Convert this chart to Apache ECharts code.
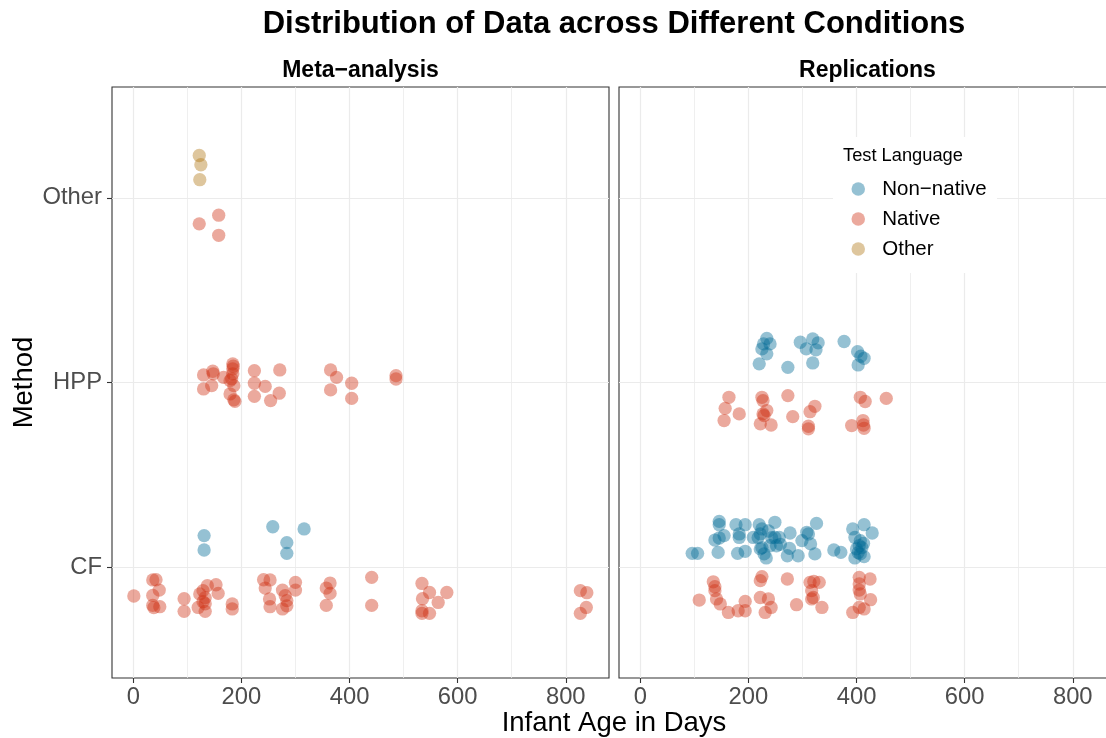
<!DOCTYPE html>
<html>
<head>
<meta charset="utf-8">
<script src="https://cdn.jsdelivr.net/npm/echarts@6/dist/echarts.min.js"></script>
<style>
  html, body { margin: 0; padding: 0; background: #ffffff; }
  #chart { width: 1106px; height: 738px; }
</style>
</head>
<body>
<div id="chart"></div>
<script>
// Method categories on the y axis (position 1 = CF, 2 = HPP, 3 = Other)
const methods = ['CF', 'HPP', 'Other'];
const ageTicks = [0, 200, 400, 600, 800];
const ageMinorLines = [100, 300, 500, 700];
const languages = ['Non\u2212native', 'Native', 'Other'];

// Points are [infant age in days, jittered method position]
const metaNonNative = [
  [131, 1.171], [131, 1.093], [258, 1.219], [316, 1.207], [284, 1.133], [284, 1.075]
];
const metaNative = [
  // CF
  [1, 0.844], [36, 0.931], [42, 0.932], [48, 0.876], [36, 0.847], [36, 0.793], [49, 0.786], [38, 0.781],
  [94, 0.829], [94, 0.761], [123, 0.855], [129, 0.873], [133, 0.835], [129, 0.813], [133, 0.802],
  [120, 0.782], [133, 0.761], [137, 0.900], [153, 0.905], [157, 0.858], [183, 0.801], [183, 0.774],
  [241, 0.932], [253, 0.931], [244, 0.887], [252, 0.828], [253, 0.786], [276, 0.876], [281, 0.846],
  [284, 0.819], [284, 0.791], [276, 0.774], [300, 0.918], [300, 0.876], [364, 0.914], [357, 0.887],
  [364, 0.858], [357, 0.793], [441, 0.945], [441, 0.793], [534, 0.912], [548, 0.863], [580, 0.863],
  [535, 0.829], [564, 0.809], [534, 0.764], [534, 0.750], [548, 0.750], [827, 0.873], [839, 0.862],
  [838, 0.782], [827, 0.750],
  // HPP
  [130, 2.041], [147, 2.061], [148, 2.047], [130, 1.965], [145, 1.983], [167, 2.028], [184, 2.101],
  [184, 2.074], [184, 2.047], [179, 2.010], [186, 1.983], [179, 1.938], [186, 1.906], [188, 1.898],
  [185, 2.088], [182, 2.020], [224, 2.064], [224, 1.996], [224, 1.925], [244, 1.979], [254, 1.902],
  [270, 1.942], [271, 2.068], [365, 2.068], [376, 2.028], [365, 1.960], [404, 1.996], [404, 1.914],
  [486, 2.037], [486, 2.019],
  // Other
  [122, 2.859], [158, 2.906], [158, 2.797]
];
const metaOther = [
  [122, 3.229], [125, 3.179], [123, 3.098]
];
const repNonNative = [
  // CF
  [96, 1.075], [106, 1.075], [146, 1.248], [146, 1.230], [138, 1.147], [146, 1.158], [155, 1.171],
  [144, 1.080], [177, 1.230], [194, 1.230], [183, 1.180], [183, 1.161], [180, 1.075], [194, 1.086],
  [220, 1.230], [225, 1.207], [222, 1.180], [209, 1.161], [249, 1.243], [249, 1.161], [222, 1.099],
  [229, 1.072], [233, 1.050], [240, 1.116], [252, 1.116], [257, 1.161], [277, 1.185], [276, 1.102],
  [272, 1.062], [292, 1.062], [299, 1.144], [308, 1.189], [311, 1.180], [315, 1.126], [326, 1.237],
  [323, 1.072], [358, 1.093], [371, 1.080], [393, 1.207], [414, 1.230], [429, 1.185], [397, 1.161],
  [407, 1.144], [405, 1.116], [413, 1.129], [400, 1.099], [407, 1.072], [414, 1.057], [397, 1.050],
  [237, 1.196], [243, 1.160], [218, 1.160], [259, 1.124], [225, 1.106], [410, 1.106], [403, 1.079],
  // HPP
  [234, 2.239], [228, 2.209], [240, 2.209], [225, 2.182], [234, 2.155], [220, 2.101], [273, 2.082],
  [296, 2.218], [319, 2.236], [307, 2.182], [329, 2.215], [325, 2.177], [319, 2.106], [377, 2.222],
  [402, 2.167], [408, 2.142], [414, 2.131], [403, 2.095]
];
const repNative = [
  // CF
  [135, 0.921], [138, 0.894], [138, 0.873], [109, 0.822], [141, 0.828], [148, 0.801], [163, 0.755],
  [181, 0.764], [194, 0.815], [194, 0.764], [222, 0.927], [225, 0.949], [222, 0.836], [237, 0.828],
  [242, 0.782], [231, 0.755], [272, 0.936], [289, 0.797], [314, 0.918], [321, 0.923], [331, 0.918],
  [317, 0.873], [317, 0.828], [320, 0.836], [336, 0.782], [405, 0.945], [425, 0.936], [405, 0.909],
  [405, 0.876], [407, 0.855], [426, 0.824], [393, 0.755], [405, 0.782], [414, 0.774],
  // HPP
  [164, 1.920], [157, 1.860], [183, 1.830], [155, 1.794], [225, 1.920], [227, 1.902], [234, 1.848],
  [227, 1.830], [229, 1.821], [222, 1.776], [242, 1.770], [273, 1.929], [282, 1.815], [323, 1.871],
  [314, 1.842], [311, 1.763], [311, 1.749], [407, 1.920], [416, 1.897], [455, 1.914], [391, 1.767],
  [412, 1.794], [413, 1.770], [414, 1.752]
];

const FONT = '"Liberation Sans", Arial, Helvetica, sans-serif';
const COLORS = {
  nonNative: 'rgba(0, 105, 150, 0.52)',
  native: 'rgba(208, 48, 20, 0.52)',
  other: 'rgba(175, 118, 20, 0.52)'
};
const GRID_LINE = '#ebebeb';
const FRAME = '#333333';
const X_MIN = -39.4, X_MAX = 880;
const Y_MIN = 0.4, Y_MAX = 3.6;

function ageAxes(gridIndex) {
  return [
    {
      gridIndex: gridIndex, type: 'value', min: X_MIN, max: X_MAX,
      axisLine: { show: false, onZero: false },
      axisTick: { show: true, customValues: ageTicks, length: 5, lineStyle: { color: FRAME, width: 1.1 } },
      axisLabel: { customValues: ageTicks, margin: 7, fontSize: 23.8, color: '#4d4d4d', fontFamily: FONT },
      splitLine: { show: true, lineStyle: { color: GRID_LINE, width: 1.2 } }
    },
    {
      // thinner lines halfway between the labelled ages
      gridIndex: gridIndex, type: 'value', min: X_MIN, max: X_MAX, position: 'bottom',
      axisLine: { show: false, onZero: false },
      axisTick: { show: false, customValues: ageMinorLines },
      axisLabel: { show: false, customValues: ageMinorLines },
      splitLine: { show: true, lineStyle: { color: GRID_LINE, width: 0.8 } }
    }
  ];
}

function methodAxis(gridIndex) {
  const first = gridIndex === 0;
  return {
    gridIndex: gridIndex, type: 'value', min: Y_MIN, max: Y_MAX,
    axisLine: { show: false, onZero: false },
    axisTick: { show: first, customValues: [1, 2, 3], length: 5, lineStyle: { color: FRAME, width: 1.1 } },
    axisLabel: {
      show: first, customValues: [1, 2, 3], margin: 10, fontSize: 23.8, color: '#4d4d4d', fontFamily: FONT,
      formatter: function (v) { return methods[Math.round(v) - 1]; }
    },
    splitLine: { show: true, lineStyle: { color: GRID_LINE, width: 1.2 } },
    name: first ? 'Method' : '',
    nameLocation: 'middle', nameRotate: 90, nameGap: 74,
    nameTextStyle: { fontSize: 27.5, color: '#000000', fontFamily: FONT }
  };
}

function dots(name, data, xIdx, yIdx, color) {
  return {
    type: 'scatter', name: name, data: data,
    xAxisIndex: xIdx, yAxisIndex: yIdx,
    symbol: 'circle', symbolSize: 13.3,
    itemStyle: { color: color, borderWidth: 0 },
    emphasis: { disabled: true },
    silent: true
  };
}

function titleText(text, left, top, size, extra, align) {
  const t = {
    text: text, left: left, top: top, padding: 0,
    textStyle: Object.assign({ fontSize: size, color: '#000000', fontFamily: FONT, fontWeight: 'normal' }, extra || {})
  };
  if (align) t.textAlign = align;
  return t;
}

const chart = echarts.init(document.getElementById('chart'), null, { renderer: 'canvas' });
chart.setOption({
  animation: false,
  backgroundColor: '#ffffff',
  textStyle: { fontFamily: FONT },
  title: [
    titleText('Distribution of Data across Different Conditions', 614, 6, 31, { fontWeight: 'bold', lineHeight: 36 }, 'center'),
    titleText('Meta\u2212analysis', 360.5, 58, 23, { fontWeight: 'bold', lineHeight: 26 }, 'center'),
    titleText('Replications', 867.5, 58, 23, { fontWeight: 'bold', lineHeight: 26 }, 'center'),
    Object.assign(titleText('Test Language', 843, 145, 18.3, { lineHeight: 22 }), { z: 20 }),
    titleText('Infant Age in Days', 614, 708, 27.5, { lineHeight: 30 }, 'center')
  ],
  legend: {
    data: languages,
    orient: 'vertical',
    left: 833, top: 137,
    padding: [41.5, 10.5, 13.5, 18.5],
    backgroundColor: '#ffffff',
    icon: 'circle',
    itemWidth: 38, itemHeight: 13.5, itemGap: 9,
    selectedMode: false,
    textStyle: { fontSize: 20.5, color: '#000000', fontFamily: FONT, lineHeight: 21 },
    z: 10
  },
  grid: [
    { left: 112, top: 87, width: 497, height: 591, show: true, borderColor: FRAME, borderWidth: 1.1, backgroundColor: 'transparent', outerBoundsMode: 'none' },
    { left: 619, top: 87, width: 497, height: 591, show: true, borderColor: FRAME, borderWidth: 1.1, backgroundColor: 'transparent', outerBoundsMode: 'none' }
  ],
  xAxis: ageAxes(0).concat(ageAxes(1)),
  yAxis: [methodAxis(0), methodAxis(1)],
  series: [
    dots(languages[0], metaNonNative, 0, 0, COLORS.nonNative),
    dots(languages[1], metaNative, 0, 0, COLORS.native),
    dots(languages[2], metaOther, 0, 0, COLORS.other),
    dots(languages[0], repNonNative, 2, 1, COLORS.nonNative),
    dots(languages[1], repNative, 2, 1, COLORS.native)
  ]
});
</script>
</body>
</html>
